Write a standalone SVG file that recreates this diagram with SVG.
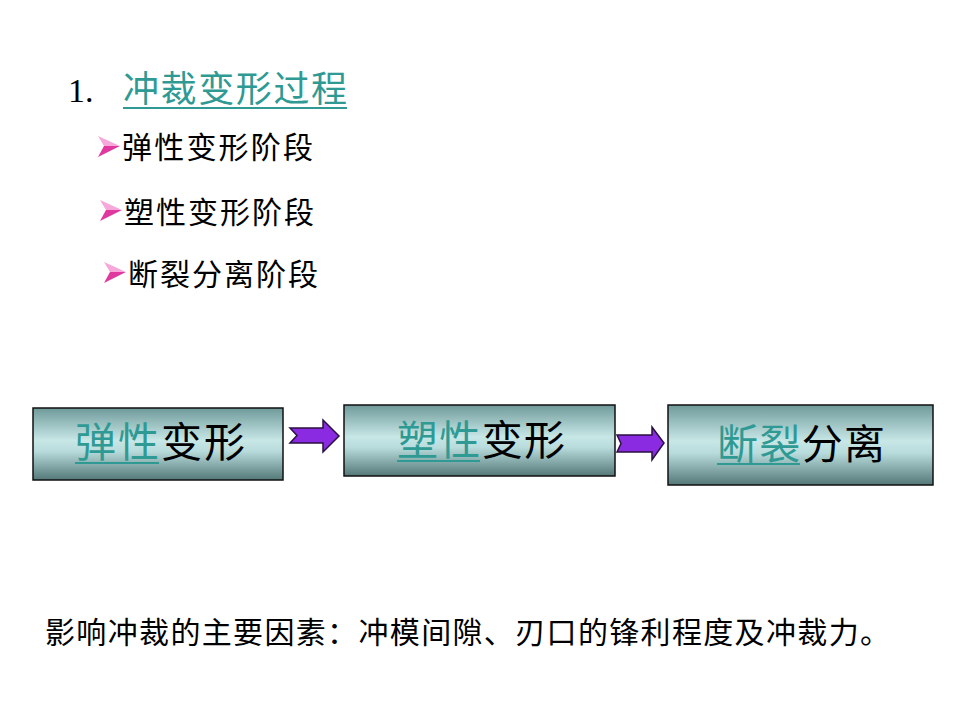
<svg xmlns="http://www.w3.org/2000/svg" width="960" height="720" viewBox="0 0 960 720">
<defs>
<linearGradient id="cyl" x1="0" y1="0" x2="0" y2="1">
<stop offset="0" stop-color="#6f9a9a"/>
<stop offset="0.45" stop-color="#c8e7e7"/>
<stop offset="0.6" stop-color="#b8dbdb"/>
<stop offset="1" stop-color="#547878"/>
</linearGradient>
<style>
.cjk{font-family:"Noto Sans CJK SC","Noto Sans",sans-serif;fill:#000}
.teal{fill:#2f9a94}
.box{fill:url(#cyl);stroke:#111;stroke-width:1.5}
.arr{fill:#8a2be2;stroke:#2a1040;stroke-width:1.5;stroke-linejoin:miter}
.ul{stroke:#2f9a94;stroke-width:2}
.bl1{fill:#f6a8da}
.bl2{fill:#e0389f}
</style>
</defs>
<rect width="960" height="720" fill="#fff"/>

<g id="title">
<text x="68" y="102" font-family="Liberation Serif,serif" font-size="34">1.</text>
<text x="123" y="102" class="cjk teal" font-size="36" textLength="224" lengthAdjust="spacing">冲裁变形过程</text>
<line x1="123" y1="108" x2="347" y2="108" class="ul"/>
</g>

<g id="bullet1">
<polygon class="bl1" points="98,136 120,146 104,146"/>
<polygon class="bl2" points="104,146 120,146 98,157"/>
<text x="122" y="158" class="cjk" font-size="30" textLength="191" lengthAdjust="spacing">弹性变形阶段</text>
</g>
<g id="bullet2">
<polygon class="bl1" points="100,200 122,210 106,210"/>
<polygon class="bl2" points="106,210 122,210 100,221"/>
<text x="124" y="223" class="cjk" font-size="30" textLength="190" lengthAdjust="spacing">塑性变形阶段</text>
</g>
<g id="bullet3">
<polygon class="bl1" points="104,262 126,272 110,272"/>
<polygon class="bl2" points="110,272 126,272 104,283"/>
<text x="128" y="285" class="cjk" font-size="30" textLength="190" lengthAdjust="spacing">断裂分离阶段</text>
</g>

<g id="node1">
<rect x="33" y="408" width="250" height="72" class="box"/>
<text x="75" y="457" class="cjk" font-size="41" textLength="170" lengthAdjust="spacing"><tspan class="teal">弹性</tspan>变形</text>
<line x1="75" y1="463" x2="159" y2="463" class="ul"/>
</g>
<g id="node2">
<rect x="344" y="405" width="271" height="71" class="box"/>
<text x="397" y="455" class="cjk" font-size="41" textLength="168" lengthAdjust="spacing"><tspan class="teal">塑性</tspan>变形</text>
<line x1="397" y1="461" x2="480" y2="461" class="ul"/>
</g>
<g id="node3">
<rect x="668" y="405" width="265" height="80" class="box"/>
<text x="717" y="459" class="cjk" font-size="41" textLength="168" lengthAdjust="spacing"><tspan class="teal">断裂</tspan>分离</text>
<line x1="717" y1="464" x2="800" y2="464" class="ul"/>
</g>

<g id="connectors">
<polygon class="arr" points="290,428 323,428 323,420 339,436 323,452 323,443 290,443 297,435.5"/>
<polygon class="arr" points="617,435 652,435 652,427 664,443 652,460 652,452 617,452 621,443.5"/>
</g>

<g id="note">
<text x="45" y="643" class="cjk" font-size="30" textLength="845" lengthAdjust="spacing">影响冲裁的主要因素：冲模间隙、刃口的锋利程度及冲裁力。</text>
</g>
</svg>
